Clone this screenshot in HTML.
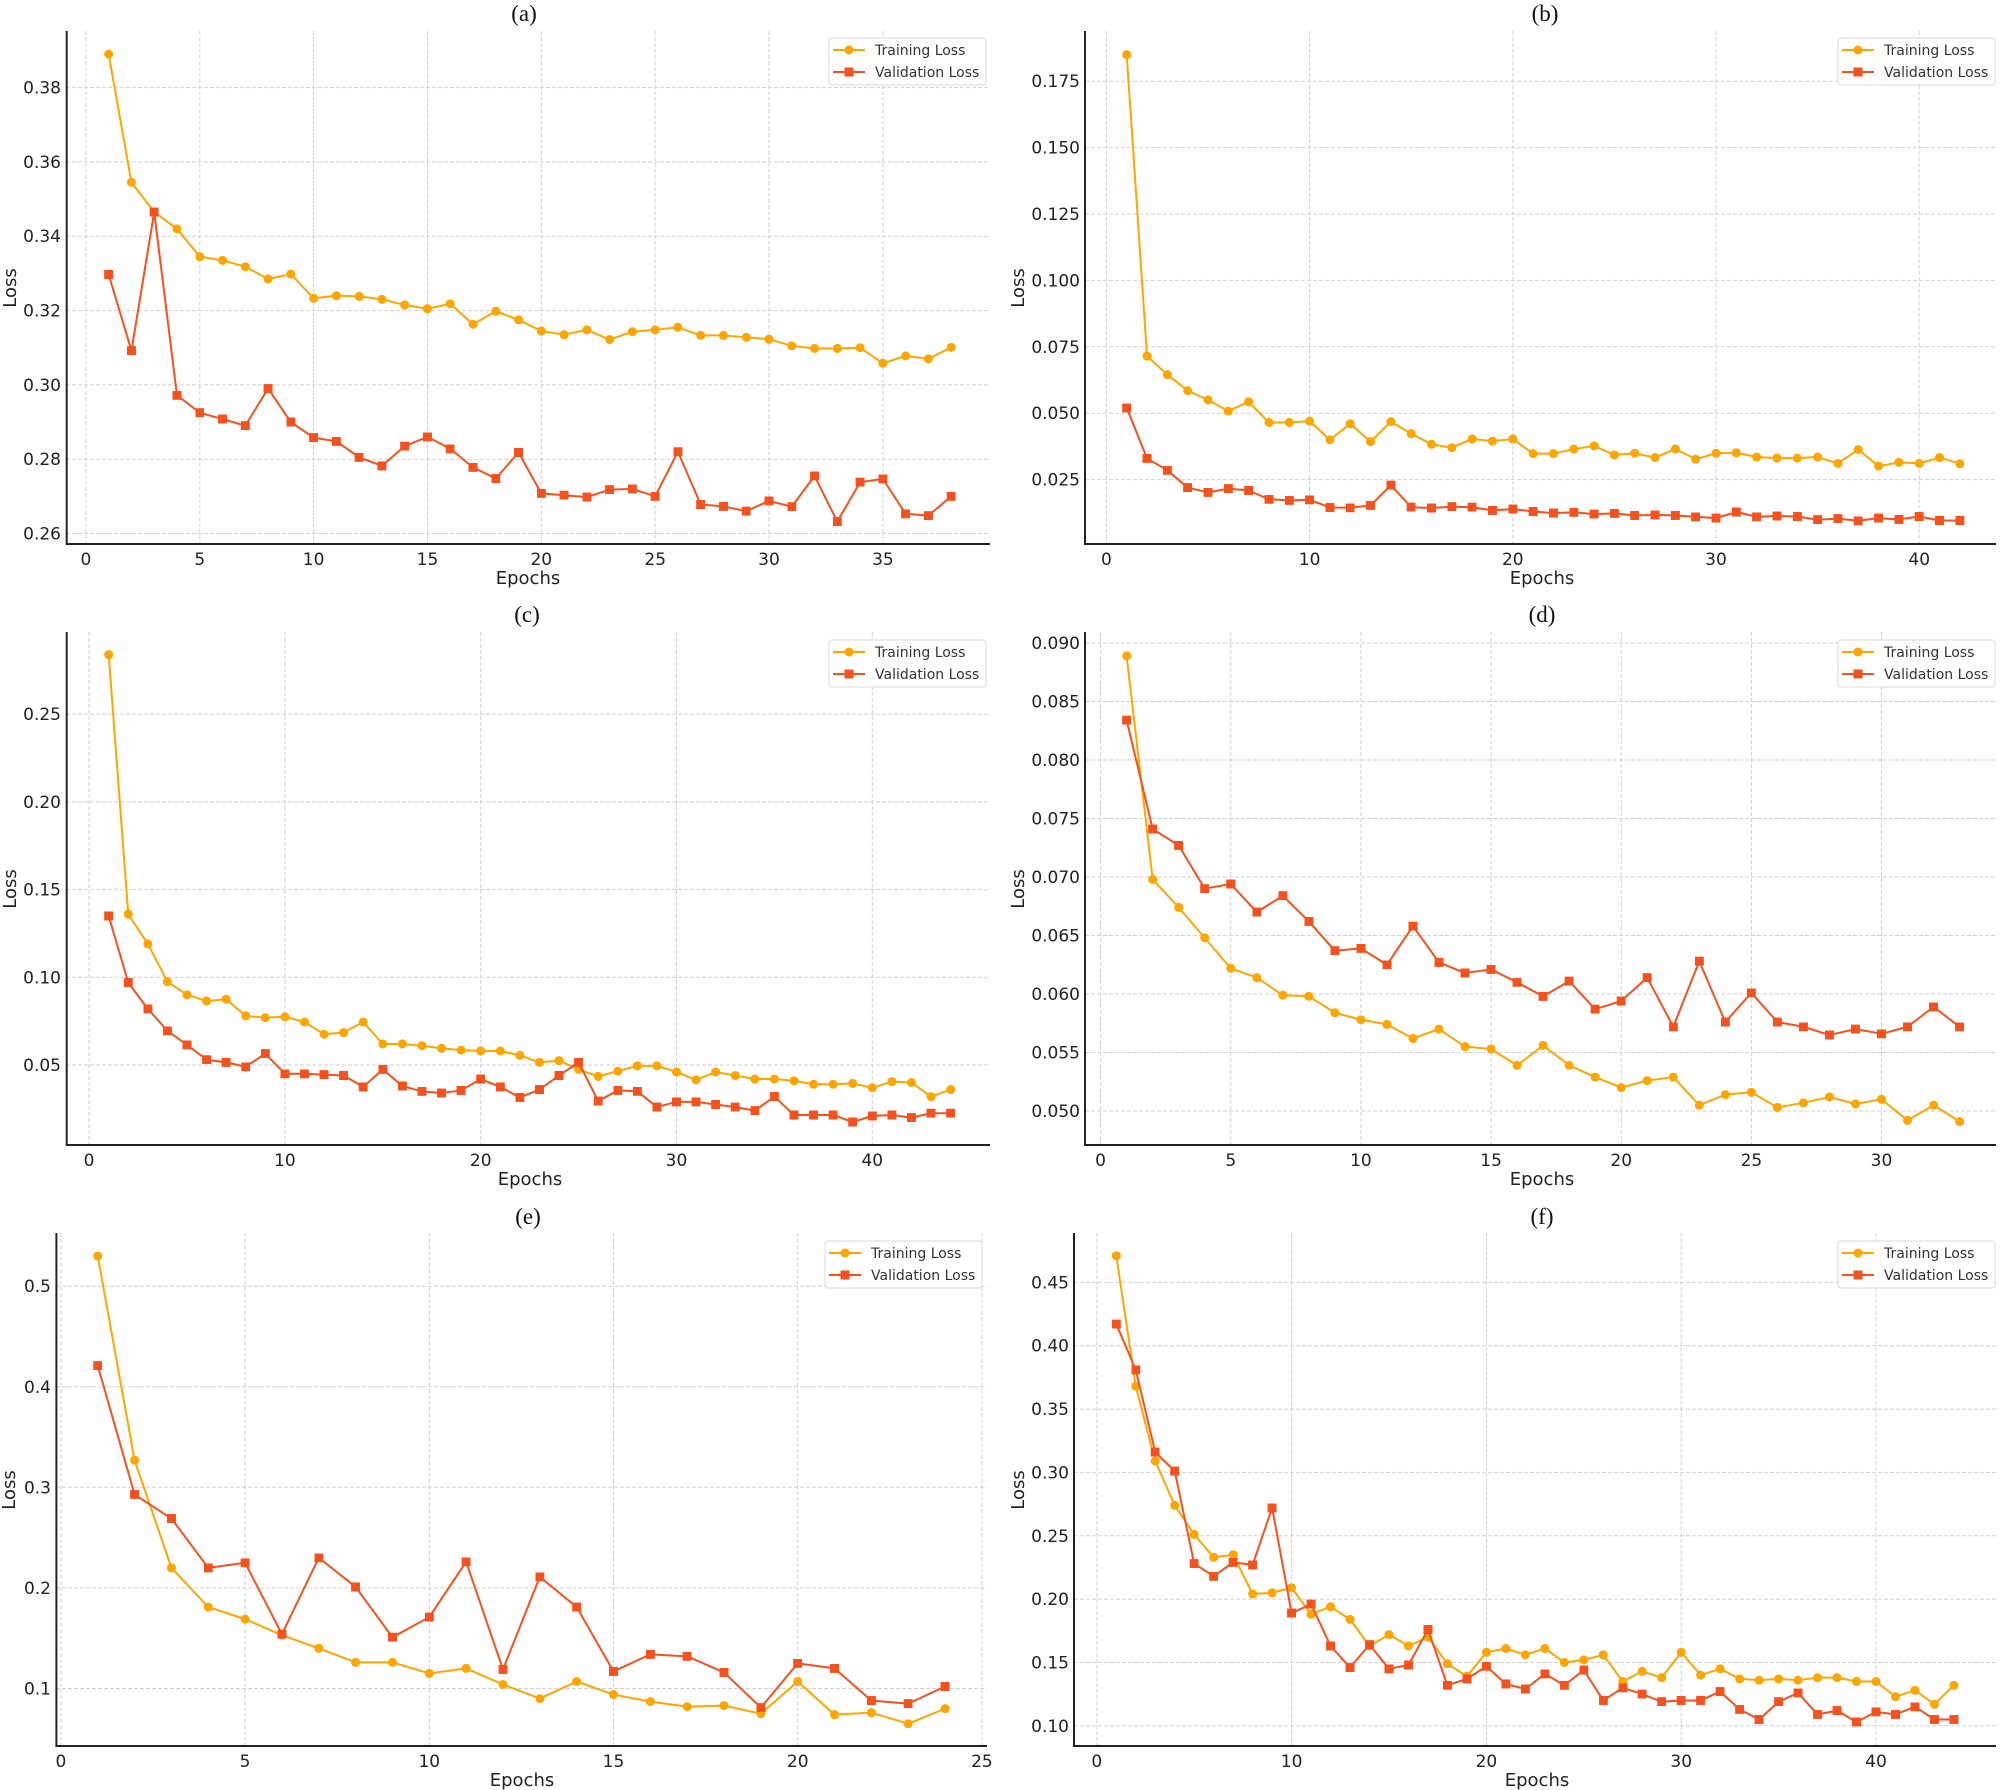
<!DOCTYPE html>
<html><head><meta charset="utf-8"><style>
html,body{margin:0;padding:0;background:#fff}
svg{display:block}
.tk{font-family:"DejaVu Sans","Liberation Sans",sans-serif;font-size:17px;fill:#222}
.lb{font-family:"DejaVu Sans","Liberation Sans",sans-serif;font-size:18px;fill:#222}
.tt{font-family:"Liberation Serif",serif;font-size:23px;fill:#111}
.lg{font-family:"DejaVu Sans","Liberation Sans",sans-serif;font-size:14px;fill:#333}
.g{stroke:#d2d2d2;stroke-width:1;stroke-dasharray:4 2;fill:none}
.sp{stroke:#222;stroke-width:2;fill:none}
.tr{fill:none;stroke:#ffa500;stroke-width:2;vector-effect:non-scaling-stroke;stroke-linejoin:round}
.va{fill:none;stroke:#f4511e;stroke-width:2;vector-effect:non-scaling-stroke;stroke-linejoin:round}
.lgb{fill:#fff;stroke:#d8d8d8;stroke-width:1}
</style></head><body>
<svg width="2000" height="1790" viewBox="0 0 2000 1790" xmlns="http://www.w3.org/2000/svg">
<defs>
<marker id="ca" viewBox="0 0 10 10" refX="5" refY="5" markerWidth="0.395" markerHeight="0.002422" markerUnits="userSpaceOnUse" preserveAspectRatio="none"><circle cx="5" cy="5" r="5" fill="#ffa500"/></marker>
<marker id="sa" viewBox="0 0 10 10" refX="5" refY="5" markerWidth="0.395" markerHeight="0.002422" markerUnits="userSpaceOnUse" preserveAspectRatio="none"><rect width="10" height="10" fill="#f4511e"/></marker>
<marker id="cb" viewBox="0 0 10 10" refX="5" refY="5" markerWidth="0.443" markerHeight="0.003389" markerUnits="userSpaceOnUse" preserveAspectRatio="none"><circle cx="5" cy="5" r="5" fill="#ffa500"/></marker>
<marker id="sb" viewBox="0 0 10 10" refX="5" refY="5" markerWidth="0.443" markerHeight="0.003389" markerUnits="userSpaceOnUse" preserveAspectRatio="none"><rect width="10" height="10" fill="#f4511e"/></marker>
<marker id="cc" viewBox="0 0 10 10" refX="5" refY="5" markerWidth="0.4597" markerHeight="0.005131" markerUnits="userSpaceOnUse" preserveAspectRatio="none"><circle cx="5" cy="5" r="5" fill="#ffa500"/></marker>
<marker id="sc" viewBox="0 0 10 10" refX="5" refY="5" markerWidth="0.4597" markerHeight="0.005131" markerUnits="userSpaceOnUse" preserveAspectRatio="none"><rect width="10" height="10" fill="#f4511e"/></marker>
<marker id="cd" viewBox="0 0 10 10" refX="5" refY="5" markerWidth="0.3458" markerHeight="0.000769" markerUnits="userSpaceOnUse" preserveAspectRatio="none"><circle cx="5" cy="5" r="5" fill="#ffa500"/></marker>
<marker id="sd" viewBox="0 0 10 10" refX="5" refY="5" markerWidth="0.3458" markerHeight="0.000769" markerUnits="userSpaceOnUse" preserveAspectRatio="none"><rect width="10" height="10" fill="#f4511e"/></marker>
<marker id="ce" viewBox="0 0 10 10" refX="5" refY="5" markerWidth="0.2443" markerHeight="0.008948" markerUnits="userSpaceOnUse" preserveAspectRatio="none"><circle cx="5" cy="5" r="5" fill="#ffa500"/></marker>
<marker id="se" viewBox="0 0 10 10" refX="5" refY="5" markerWidth="0.2443" markerHeight="0.008948" markerUnits="userSpaceOnUse" preserveAspectRatio="none"><rect width="10" height="10" fill="#f4511e"/></marker>
<marker id="cf" viewBox="0 0 10 10" refX="5" refY="5" markerWidth="0.462" markerHeight="0.007103" markerUnits="userSpaceOnUse" preserveAspectRatio="none"><circle cx="5" cy="5" r="5" fill="#ffa500"/></marker>
<marker id="sf" viewBox="0 0 10 10" refX="5" refY="5" markerWidth="0.462" markerHeight="0.007103" markerUnits="userSpaceOnUse" preserveAspectRatio="none"><rect width="10" height="10" fill="#f4511e"/></marker>
</defs>

<!-- ===== Panel (a) ===== -->
<text class="tt" x="524" y="21" text-anchor="middle">(a)</text>
<g class="g">
<line x1="85.9" y1="31" x2="85.9" y2="544"/><line x1="199.8" y1="31" x2="199.8" y2="544"/><line x1="313.6" y1="31" x2="313.6" y2="544"/><line x1="427.5" y1="31" x2="427.5" y2="544"/><line x1="541.3" y1="31" x2="541.3" y2="544"/><line x1="655.2" y1="31" x2="655.2" y2="544"/><line x1="769" y1="31" x2="769" y2="544"/><line x1="882.9" y1="31" x2="882.9" y2="544"/>
<line x1="66" y1="533.5" x2="990" y2="533.5"/><line x1="66" y1="459.2" x2="990" y2="459.2"/><line x1="66" y1="384.9" x2="990" y2="384.9"/><line x1="66" y1="310.6" x2="990" y2="310.6"/><line x1="66" y1="236.2" x2="990" y2="236.2"/><line x1="66" y1="161.9" x2="990" y2="161.9"/><line x1="66" y1="87.6" x2="990" y2="87.6"/>
</g>
<path class="sp" d="M66.7 31 V544 H990"/>
<g class="tk" text-anchor="end">
<text x="61" y="539.5">0.26</text><text x="61" y="465.2">0.28</text><text x="61" y="390.9">0.30</text><text x="61" y="316.6">0.32</text><text x="61" y="242.2">0.34</text><text x="61" y="167.9">0.36</text><text x="61" y="93.6">0.38</text>
</g>
<g class="tk" text-anchor="middle">
<text x="85.9" y="565">0</text><text x="199.8" y="565">5</text><text x="313.6" y="565">10</text><text x="427.5" y="565">15</text><text x="541.3" y="565">20</text><text x="655.2" y="565">25</text><text x="769" y="565">30</text><text x="882.9" y="565">35</text>
</g>
<text class="lb" x="528" y="584" text-anchor="middle">Epochs</text>
<text class="lb" transform="translate(16,288) rotate(-90)" text-anchor="middle">Loss</text>
<g transform="translate(85.9,1499.66) scale(22.77,-3716)">
<polyline class="tr" marker-start="url(#ca)" marker-mid="url(#ca)" marker-end="url(#ca)" points="1,.389 2,.3545 3,.3465 4,.342 5,.3345 6,.3335 7,.3318 8,.3285 9,.3298 10,.3233 11,.324 12,.3238 13,.323 14,.3215 15,.3205 16,.3218 17,.3163 18,.3198 19,.3175 20,.3145 21,.3135 22,.3148 23,.3122 24,.3143 25,.3148 26,.3155 27,.3133 28,.3133 29,.3128 30,.3123 31,.3105 32,.3098 33,.3098 34,.31 35,.3058 36,.3078 37,.307 38,.3101"/>
<polyline class="va" marker-start="url(#sa)" marker-mid="url(#sa)" marker-end="url(#sa)" points="1,.3297 2,.3092 3,.3465 4,.2972 5,.2925 6,.2908 7,.289 8,.299 9,.29 10,.2858 11,.2848 12,.2805 13,.2782 14,.2835 15,.286 16,.2828 17,.2778 18,.2748 19,.2818 20,.2708 21,.2703 22,.2698 23,.2718 24,.272 25,.27 26,.282 27,.2678 28,.2673 29,.266 30,.2688 31,.2672 32,.2755 33,.2632 34,.2738 35,.2747 36,.2653 37,.2648 38,.27"/>
</g>
<g>
<rect class="lgb" x="829" y="38" width="157" height="47" rx="3"/>
<line x1="833" y1="50" x2="865" y2="50" stroke="#ffa500" stroke-width="2"/><circle cx="849" cy="50" r="4.5" fill="#ffa500"/>
<text class="lg" x="875" y="55">Training Loss</text>
<line x1="833" y1="72" x2="865" y2="72" stroke="#f4511e" stroke-width="2"/><rect x="844.5" y="67.5" width="9" height="9" fill="#f4511e"/>
<text class="lg" x="875" y="77">Validation Loss</text>
</g>

<!-- ===== Panel (b) ===== -->
<text class="tt" x="1545" y="21" text-anchor="middle">(b)</text>
<g class="g">
<line x1="1106.4" y1="31" x2="1106.4" y2="544"/><line x1="1309.6" y1="31" x2="1309.6" y2="544"/><line x1="1512.8" y1="31" x2="1512.8" y2="544"/><line x1="1716" y1="31" x2="1716" y2="544"/><line x1="1919.2" y1="31" x2="1919.2" y2="544"/>
<line x1="1085" y1="479.6" x2="1996" y2="479.6"/><line x1="1085" y1="413.2" x2="1996" y2="413.2"/><line x1="1085" y1="346.8" x2="1996" y2="346.8"/><line x1="1085" y1="280.4" x2="1996" y2="280.4"/><line x1="1085" y1="214" x2="1996" y2="214"/><line x1="1085" y1="147.6" x2="1996" y2="147.6"/><line x1="1085" y1="81.2" x2="1996" y2="81.2"/>
</g>
<path class="sp" d="M1085 31 V544 H1996"/>
<g class="tk" text-anchor="end">
<text x="1080" y="485.6">0.025</text><text x="1080" y="419.2">0.050</text><text x="1080" y="352.8">0.075</text><text x="1080" y="286.4">0.100</text><text x="1080" y="220">0.125</text><text x="1080" y="153.6">0.150</text><text x="1080" y="87.2">0.175</text>
</g>
<g class="tk" text-anchor="middle">
<text x="1106.4" y="565">0</text><text x="1309.6" y="565">10</text><text x="1512.8" y="565">20</text><text x="1716" y="565">30</text><text x="1919.2" y="565">40</text>
</g>
<text class="lb" x="1542" y="584" text-anchor="middle">Epochs</text>
<text class="lb" transform="translate(1024,288) rotate(-90)" text-anchor="middle">Loss</text>
<g transform="translate(1106.4,546) scale(20.32,-2656)">
<polyline class="tr" marker-start="url(#cb)" marker-mid="url(#cb)" marker-end="url(#cb)" points="1,.185 2,.0715 3,.0645 4,.0585 5,.055 6,.0508 7,.0543 8,.0465 9,.0465 10,.047 11,.04 12,.046 13,.0393 14,.0468 15,.0423 16,.0383 17,.037 18,.0403 19,.0395 20,.0403 21,.0348 22,.0348 23,.0365 24,.0377 25,.0343 26,.0349 27,.0333 28,.0365 29,.0327 30,.0349 31,.0351 32,.0335 33,.0331 34,.0331 35,.0335 36,.0311 37,.0363 38,.0301 39,.0315 40,.0311 41,.0333 42,.031"/>
<polyline class="va" marker-start="url(#sb)" marker-mid="url(#sb)" marker-end="url(#sb)" points="1,.052 2,.033 3,.0285 4,.022 5,.0202 6,.0216 7,.0209 8,.0176 9,.0172 10,.0174 11,.0145 12,.0144 13,.0153 14,.0229 15,.0146 16,.0143 17,.0148 18,.0146 19,.0134 20,.0139 21,.013 22,.0124 23,.0127 24,.012 25,.0123 26,.0115 27,.0117 28,.0115 29,.011 30,.0105 31,.0128 32,.011 33,.0113 34,.0111 35,.0099 36,.0103 37,.0095 38,.0105 39,.01 40,.0111 41,.0096 42,.0096"/>
</g>
<g>
<rect class="lgb" x="1838" y="38" width="157" height="47" rx="3"/>
<line x1="1842" y1="50" x2="1874" y2="50" stroke="#ffa500" stroke-width="2"/><circle cx="1858" cy="50" r="4.5" fill="#ffa500"/>
<text class="lg" x="1884" y="55">Training Loss</text>
<line x1="1842" y1="72" x2="1874" y2="72" stroke="#f4511e" stroke-width="2"/><rect x="1853.5" y="67.5" width="9" height="9" fill="#f4511e"/>
<text class="lg" x="1884" y="77">Validation Loss</text>
</g>

<!-- ===== Panel (c) ===== -->
<text class="tt" x="527" y="622" text-anchor="middle">(c)</text>
<g class="g">
<line x1="89.1" y1="632" x2="89.1" y2="1145"/><line x1="284.9" y1="632" x2="284.9" y2="1145"/><line x1="480.7" y1="632" x2="480.7" y2="1145"/><line x1="676.5" y1="632" x2="676.5" y2="1145"/><line x1="872.3" y1="632" x2="872.3" y2="1145"/>
<line x1="66" y1="1065" x2="990" y2="1065"/><line x1="66" y1="977.3" x2="990" y2="977.3"/><line x1="66" y1="889.6" x2="990" y2="889.6"/><line x1="66" y1="801.9" x2="990" y2="801.9"/><line x1="66" y1="714.2" x2="990" y2="714.2"/>
</g>
<path class="sp" d="M66.7 632 V1145 H990"/>
<g class="tk" text-anchor="end">
<text x="61" y="1071">0.05</text><text x="61" y="983.3">0.10</text><text x="61" y="895.6">0.15</text><text x="61" y="807.9">0.20</text><text x="61" y="720.2">0.25</text>
</g>
<g class="tk" text-anchor="middle">
<text x="89.1" y="1166">0</text><text x="284.9" y="1166">10</text><text x="480.7" y="1166">20</text><text x="676.5" y="1166">30</text><text x="872.3" y="1166">40</text>
</g>
<text class="lb" x="530" y="1185" text-anchor="middle">Epochs</text>
<text class="lb" transform="translate(16,889) rotate(-90)" text-anchor="middle">Loss</text>
<g transform="translate(89.1,1152.7) scale(19.58,-1754)">
<polyline class="tr" marker-start="url(#cc)" marker-mid="url(#cc)" marker-end="url(#cc)" points="1,.284 2,.136 3,.119 4,.0975 5,.09 6,.0865 7,.0875 8,.078 9,.077 10,.0775 11,.0745 12,.0675 13,.0685 14,.0745 15,.062 16,.062 17,.061 18,.0595 19,.0585 20,.058 21,.058 22,.0555 23,.0515 24,.0525 25,.0475 26,.0435 27,.0465 28,.0495 29,.0495 30,.046 31,.0415 32,.046 33,.044 34,.042 35,.042 36,.041 37,.039 38,.039 39,.0395 40,.037 41,.0405 42,.04 43,.032 44,.036"/>
<polyline class="va" marker-start="url(#sc)" marker-mid="url(#sc)" marker-end="url(#sc)" points="1,.135 2,.097 3,.082 4,.0695 5,.0615 6,.053 7,.0515 8,.049 9,.0565 10,.045 11,.045 12,.0445 13,.044 14,.0375 15,.0475 16,.038 17,.035 18,.034 19,.0355 20,.042 21,.0375 22,.0315 23,.036 24,.044 25,.0515 26,.0295 27,.0355 28,.035 29,.026 30,.029 31,.029 32,.0275 33,.026 34,.024 35,.032 36,.0215 37,.0215 38,.0215 39,.0175 40,.021 41,.0215 42,.02 43,.0225 44,.0225"/>
</g>
<g>
<rect class="lgb" x="829" y="640" width="157" height="47" rx="3"/>
<line x1="833" y1="652" x2="865" y2="652" stroke="#ffa500" stroke-width="2"/><circle cx="849" cy="652" r="4.5" fill="#ffa500"/>
<text class="lg" x="875" y="657">Training Loss</text>
<line x1="833" y1="674" x2="865" y2="674" stroke="#f4511e" stroke-width="2"/><rect x="844.5" y="669.5" width="9" height="9" fill="#f4511e"/>
<text class="lg" x="875" y="679">Validation Loss</text>
</g>

<!-- ===== Panel (d) ===== -->
<text class="tt" x="1542" y="622" text-anchor="middle">(d)</text>
<g class="g">
<line x1="1100.6" y1="632" x2="1100.6" y2="1145"/><line x1="1230.8" y1="632" x2="1230.8" y2="1145"/><line x1="1360.9" y1="632" x2="1360.9" y2="1145"/><line x1="1491.1" y1="632" x2="1491.1" y2="1145"/><line x1="1621.2" y1="632" x2="1621.2" y2="1145"/><line x1="1751.4" y1="632" x2="1751.4" y2="1145"/><line x1="1881.5" y1="632" x2="1881.5" y2="1145"/>
<line x1="1085" y1="1111" x2="1996" y2="1111"/><line x1="1085" y1="1052.5" x2="1996" y2="1052.5"/><line x1="1085" y1="994" x2="1996" y2="994"/><line x1="1085" y1="935.5" x2="1996" y2="935.5"/><line x1="1085" y1="877" x2="1996" y2="877"/><line x1="1085" y1="818.5" x2="1996" y2="818.5"/><line x1="1085" y1="760" x2="1996" y2="760"/><line x1="1085" y1="701.5" x2="1996" y2="701.5"/><line x1="1085" y1="643" x2="1996" y2="643"/>
</g>
<path class="sp" d="M1085 632 V1145 H1996"/>
<g class="tk" text-anchor="end">
<text x="1080" y="1117">0.050</text><text x="1080" y="1058.5">0.055</text><text x="1080" y="1000">0.060</text><text x="1080" y="941.5">0.065</text><text x="1080" y="883">0.070</text><text x="1080" y="824.5">0.075</text><text x="1080" y="766">0.080</text><text x="1080" y="707.5">0.085</text><text x="1080" y="649">0.090</text>
</g>
<g class="tk" text-anchor="middle">
<text x="1100.6" y="1166">0</text><text x="1230.8" y="1166">5</text><text x="1360.9" y="1166">10</text><text x="1491.1" y="1166">15</text><text x="1621.2" y="1166">20</text><text x="1751.4" y="1166">25</text><text x="1881.5" y="1166">30</text>
</g>
<text class="lb" x="1542" y="1185" text-anchor="middle">Epochs</text>
<text class="lb" transform="translate(1024,889) rotate(-90)" text-anchor="middle">Loss</text>
<g transform="translate(1100.6,1696) scale(26.03,-11700)">
<polyline class="tr" marker-start="url(#cd)" marker-mid="url(#cd)" marker-end="url(#cd)" points="1,.0889 2,.0698 3,.0674 4,.0648 5,.0622 6,.0614 7,.0599 8,.0598 9,.0584 10,.0578 11,.0574 12,.0562 13,.057 14,.0555 15,.0553 16,.0539 17,.0556 18,.0539 19,.0529 20,.052 21,.0526 22,.0529 23,.0505 24,.0514 25,.0516 26,.0503 27,.0507 28,.0512 29,.0506 30,.051 31,.0492 32,.0505 33,.0491"/>
<polyline class="va" marker-start="url(#sd)" marker-mid="url(#sd)" marker-end="url(#sd)" points="1,.0834 2,.0741 3,.0727 4,.069 5,.0694 6,.067 7,.0684 8,.0662 9,.0637 10,.0639 11,.0625 12,.0658 13,.0627 14,.0618 15,.0621 16,.061 17,.0598 18,.0611 19,.0587 20,.0594 21,.0614 22,.0572 23,.0628 24,.0576 25,.0601 26,.0576 27,.0572 28,.0565 29,.057 30,.0566 31,.0572 32,.0589 33,.0572"/>
</g>
<g>
<rect class="lgb" x="1838" y="640" width="157" height="47" rx="3"/>
<line x1="1842" y1="652" x2="1874" y2="652" stroke="#ffa500" stroke-width="2"/><circle cx="1858" cy="652" r="4.5" fill="#ffa500"/>
<text class="lg" x="1884" y="657">Training Loss</text>
<line x1="1842" y1="674" x2="1874" y2="674" stroke="#f4511e" stroke-width="2"/><rect x="1853.5" y="669.5" width="9" height="9" fill="#f4511e"/>
<text class="lg" x="1884" y="679">Validation Loss</text>
</g>

<!-- ===== Panel (e) ===== -->
<text class="tt" x="528" y="1224" text-anchor="middle">(e)</text>
<g class="g">
<line x1="60.9" y1="1233" x2="60.9" y2="1746"/><line x1="245.1" y1="1233" x2="245.1" y2="1746"/><line x1="429.3" y1="1233" x2="429.3" y2="1746"/><line x1="613.5" y1="1233" x2="613.5" y2="1746"/><line x1="797.7" y1="1233" x2="797.7" y2="1746"/><line x1="981.9" y1="1233" x2="981.9" y2="1746"/>
<line x1="56" y1="1688.5" x2="987" y2="1688.5"/><line x1="56" y1="1587.9" x2="987" y2="1587.9"/><line x1="56" y1="1487.3" x2="987" y2="1487.3"/><line x1="56" y1="1386.8" x2="987" y2="1386.8"/><line x1="56" y1="1286.2" x2="987" y2="1286.2"/>
</g>
<path class="sp" d="M56.4 1233 V1746 H987"/>
<g class="tk" text-anchor="end">
<text x="51" y="1694.5">0.1</text><text x="51" y="1593.9">0.2</text><text x="51" y="1493.3">0.3</text><text x="51" y="1392.8">0.4</text><text x="51" y="1292.2">0.5</text>
</g>
<g class="tk" text-anchor="middle">
<text x="60.9" y="1767">0</text><text x="245.1" y="1767">5</text><text x="429.3" y="1767">10</text><text x="613.5" y="1767">15</text><text x="797.7" y="1767">20</text><text x="981.9" y="1767">25</text>
</g>
<text class="lb" x="522" y="1786" text-anchor="middle">Epochs</text>
<text class="lb" transform="translate(15,1490) rotate(-90)" text-anchor="middle">Loss</text>
<g transform="translate(60.9,1789.1) scale(36.84,-1005.8)">
<polyline class="tr" marker-start="url(#ce)" marker-mid="url(#ce)" marker-end="url(#ce)" points="1,.53 2,.327 3,.22 4,.181 5,.169 6,.153 7,.14 8,.126 9,.126 10,.115 11,.12 12,.104 13,.09 14,.107 15,.094 16,.087 17,.082 18,.083 19,.075 20,.107 21,.074 22,.076 23,.065 24,.08"/>
<polyline class="va" marker-start="url(#se)" marker-mid="url(#se)" marker-end="url(#se)" points="1,.421 2,.293 3,.269 4,.22 5,.225 6,.154 7,.23 8,.201 9,.151 10,.171 11,.226 12,.119 13,.211 14,.181 15,.117 16,.134 17,.132 18,.116 19,.081 20,.125 21,.12 22,.088 23,.085 24,.102"/>
</g>
<g>
<rect class="lgb" x="825" y="1241" width="157" height="47" rx="3"/>
<line x1="829" y1="1253" x2="861" y2="1253" stroke="#ffa500" stroke-width="2"/><circle cx="845" cy="1253" r="4.5" fill="#ffa500"/>
<text class="lg" x="871" y="1258">Training Loss</text>
<line x1="829" y1="1275" x2="861" y2="1275" stroke="#f4511e" stroke-width="2"/><rect x="840.5" y="1270.5" width="9" height="9" fill="#f4511e"/>
<text class="lg" x="871" y="1280">Validation Loss</text>
</g>

<!-- ===== Panel (f) ===== -->
<text class="tt" x="1542" y="1224" text-anchor="middle">(f)</text>
<g class="g">
<line x1="1096.8" y1="1233" x2="1096.8" y2="1746"/><line x1="1291.6" y1="1233" x2="1291.6" y2="1746"/><line x1="1486.4" y1="1233" x2="1486.4" y2="1746"/><line x1="1681.2" y1="1233" x2="1681.2" y2="1746"/><line x1="1876" y1="1233" x2="1876" y2="1746"/>
<line x1="1074" y1="1725.8" x2="1996" y2="1725.8"/><line x1="1074" y1="1662.5" x2="1996" y2="1662.5"/><line x1="1074" y1="1599.1" x2="1996" y2="1599.1"/><line x1="1074" y1="1535.8" x2="1996" y2="1535.8"/><line x1="1074" y1="1472.4" x2="1996" y2="1472.4"/><line x1="1074" y1="1409.1" x2="1996" y2="1409.1"/><line x1="1074" y1="1345.7" x2="1996" y2="1345.7"/><line x1="1074" y1="1282.4" x2="1996" y2="1282.4"/>
</g>
<path class="sp" d="M1074 1233 V1746 H1996"/>
<g class="tk" text-anchor="end">
<text x="1069" y="1731.8">0.10</text><text x="1069" y="1668.5">0.15</text><text x="1069" y="1605.1">0.20</text><text x="1069" y="1541.8">0.25</text><text x="1069" y="1478.4">0.30</text><text x="1069" y="1415.1">0.35</text><text x="1069" y="1351.7">0.40</text><text x="1069" y="1288.4">0.45</text>
</g>
<g class="tk" text-anchor="middle">
<text x="1096.8" y="1767">0</text><text x="1291.6" y="1767">10</text><text x="1486.4" y="1767">20</text><text x="1681.2" y="1767">30</text><text x="1876" y="1767">40</text>
</g>
<text class="lb" x="1537" y="1786" text-anchor="middle">Epochs</text>
<text class="lb" transform="translate(1024,1490) rotate(-90)" text-anchor="middle">Loss</text>
<g transform="translate(1096.8,1852.5) scale(19.48,-1267)">
<polyline class="tr" marker-start="url(#cf)" marker-mid="url(#cf)" marker-end="url(#cf)" points="1,.471 2,.368 3,.309 4,.274 5,.251 6,.233 7,.235 8,.204 9,.205 10,.209 11,.188 12,.194 13,.184 14,.163 15,.172 16,.163 17,.17 18,.149 19,.139 20,.158 21,.161 22,.156 23,.161 24,.15 25,.152 26,.156 27,.135 28,.143 29,.138 30,.158 31,.14 32,.145 33,.137 34,.136 35,.137 36,.136 37,.138 38,.138 39,.135 40,.135 41,.123 42,.128 43,.117 44,.132"/>
<polyline class="va" marker-start="url(#sf)" marker-mid="url(#sf)" marker-end="url(#sf)" points="1,.417 2,.381 3,.316 4,.301 5,.228 6,.218 7,.229 8,.227 9,.272 10,.189 11,.196 12,.163 13,.146 14,.164 15,.145 16,.148 17,.176 18,.132 19,.137 20,.147 21,.133 22,.129 23,.141 24,.132 25,.144 26,.12 27,.13 28,.125 29,.119 30,.12 31,.12 32,.127 33,.113 34,.105 35,.119 36,.126 37,.109 38,.112 39,.103 40,.111 41,.109 42,.115 43,.105 44,.105"/>
</g>
<g>
<rect class="lgb" x="1838" y="1241" width="157" height="47" rx="3"/>
<line x1="1842" y1="1253" x2="1874" y2="1253" stroke="#ffa500" stroke-width="2"/><circle cx="1858" cy="1253" r="4.5" fill="#ffa500"/>
<text class="lg" x="1884" y="1258">Training Loss</text>
<line x1="1842" y1="1275" x2="1874" y2="1275" stroke="#f4511e" stroke-width="2"/><rect x="1853.5" y="1270.5" width="9" height="9" fill="#f4511e"/>
<text class="lg" x="1884" y="1280">Validation Loss</text>
</g>
</svg>
</body></html>
